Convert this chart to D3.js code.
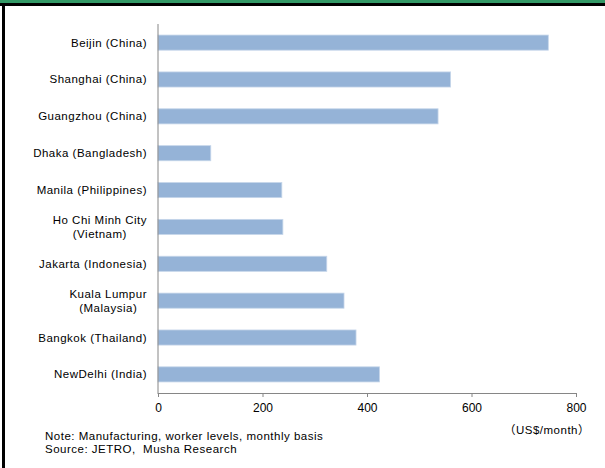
<!DOCTYPE html>
<html>
<head>
<meta charset="utf-8">
<script src="https://cdn.jsdelivr.net/npm/d3@7"></script>
<style>
    body { margin: 0; background: #fff; }
    text { font-family: "Liberation Sans", Arial, sans-serif; fill: #000; }
    .lbl { font-size: 11.5px; letter-spacing: 0.5px; }
    .note { white-space: pre; }
</style>
</head>
<body>
<script>
// wages by city, US$/month
const cities = [
    ["Beijin (China)"],
    ["Shanghai (China)"],
    ["Guangzhou (China)"],
    ["Dhaka (Bangladesh)"],
    ["Manila (Philippines)"],
    ["Ho Chi Minh City", "(Vietnam)"],
    ["Jakarta (Indonesia)"],
    ["Kuala Lumpur", "(Malaysia)"],
    ["Bangkok (Thailand)"],
    ["NewDelhi (India)"]
];
const wages = [747, 560, 536, 101, 237, 239, 323, 356, 379, 424];
const xTicks = [0, 200, 400, 600, 800];
const notes = ["Note: Manufacturing, worker levels, monthly basis", "Source: JETRO,  Musha Research"];
const unitLabel = "（US$/month）";

const width = 605,
    height = 468;

const svg = d3.select("body").append("svg")
    .attr("width", width)
    .attr("height", height);

// frame bits: green title strip cut off at top, black rules
svg.append("rect")
    .attr("x", 0).attr("y", 0)
    .attr("width", width).attr("height", 4)
    .attr("fill", "#339966");
svg.append("rect")
    .attr("x", 0).attr("y", 3)
    .attr("width", width).attr("height", 3)
    .attr("fill", "#000");
svg.append("rect")
    .attr("x", 2).attr("y", 3)
    .attr("width", 3).attr("height", height)
    .attr("fill", "#000");

const margin = { top: 24, left: 158, right: 29, bottom: 75 },
    plotW = width - margin.left - margin.right,
    plotH = height - margin.top - margin.bottom;

const g = svg.append("g")
    .attr("transform", `translate(${margin.left},${margin.top})`);

const x = d3.scaleLinear()
    .domain([0, 800])
    .range([0, plotW]);

const y = d3.scaleBand()
    .domain(d3.range(cities.length))
    .range([0, plotH])
    .paddingInner(0.59)
    .paddingOuter(0.3);

g.selectAll("rect.bar")
    .data(wages)
    .enter()
    .append("rect")
    .attr("class", "bar")
    .attr("x", 0)
    .attr("y", (d, i) => y(i))
    .attr("width", d => x(d))
    .attr("height", y.bandwidth())
    .attr("fill", "#95b3d7")
    .attr("stroke", "#c6d6ea")
    .attr("stroke-width", 0.8);

// x axis
const xAxis = g.append("g")
    .attr("transform", `translate(0,${plotH})`)
    .call(d3.axisBottom(x).tickValues(xTicks).tickSize(4).tickSizeOuter(4).tickPadding(6));
xAxis.select(".domain").attr("stroke", "#868686");
xAxis.selectAll(".tick line").attr("stroke", "#868686");
xAxis.selectAll(".tick text")
    .style("font-family", "'Liberation Sans', Arial, sans-serif")
    .style("font-size", "12px")
    .attr("fill", "#000");

// y axis line only
g.append("line")
    .attr("x1", 0).attr("x2", 0)
    .attr("y1", 0).attr("y2", plotH + 1)
    .attr("stroke", "#868686");

// category labels
const labelRight = margin.left - 11;
const labels = svg.append("g");
cities.forEach((lines, i) => {
    const cy = margin.top + y(i) + y.bandwidth() / 2;
    const t = labels.append("text").attr("class", "lbl");
    if (lines.length === 1) {
        t.attr("x", labelRight).attr("y", cy + 4)
            .attr("text-anchor", "end")
            .text(lines[0]);
    } else {
        const probe = labels.append("text").attr("class", "lbl").text(lines[0]);
        const w = probe.node().getComputedTextLength();
        probe.remove();
        const cx = labelRight - w / 2;
        t.attr("text-anchor", "middle");
        lines.forEach((ln, k) => {
            t.append("tspan")
                .attr("x", cx)
                .attr("y", cy + 4 + (k - (lines.length - 1) / 2) * 14)
                .text(ln);
        });
    }
});

// unit label
svg.append("text")
    .attr("class", "lbl")
    .attr("x", 590)
    .attr("y", 434)
    .attr("text-anchor", "end")
    .style("font-family", "'Liberation Sans', 'Noto Sans CJK JP', sans-serif")
    .text(unitLabel);

// notes
svg.selectAll("text.note")
    .data(notes)
    .enter()
    .append("text")
    .attr("class", "note lbl")
    .attr("x", 45)
    .attr("y", (d, i) => 440 + i * 13)
    .text(d => d);
</script>
</body>
</html>
